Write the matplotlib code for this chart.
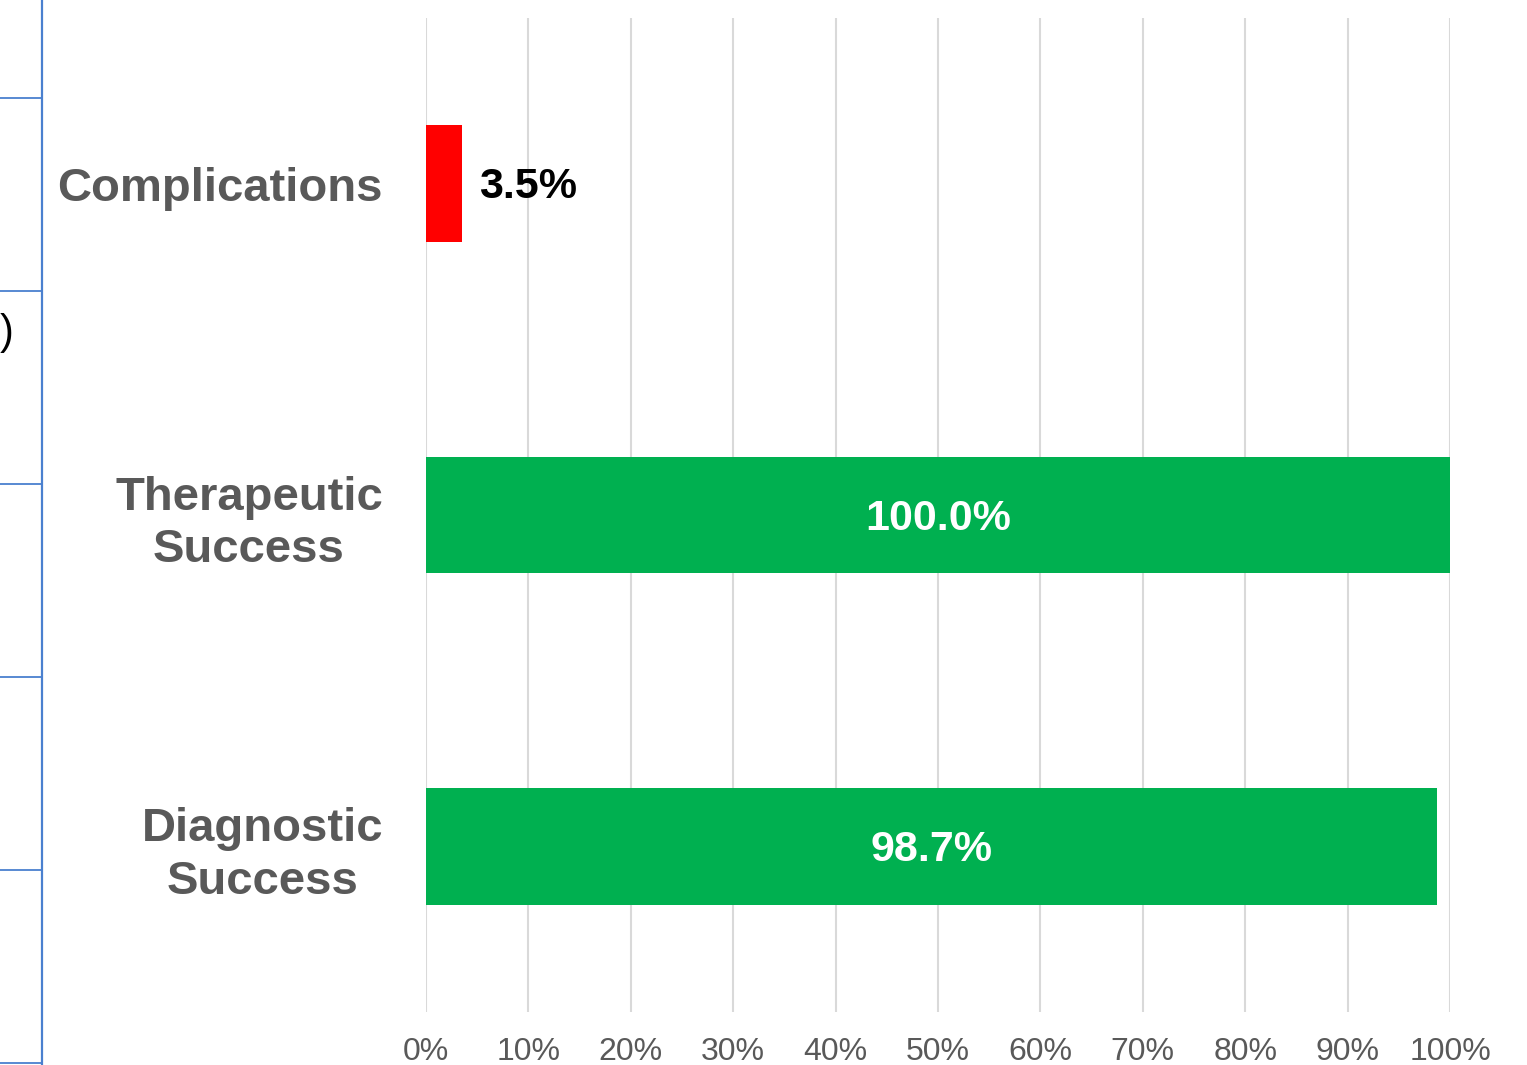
import matplotlib.pyplot as plt
from matplotlib.lines import Line2D

plt.rcParams['font.family'] = ['Liberation Sans', 'DejaVu Sans']

# data
categories = ['Diagnostic\nSuccess', 'Therapeutic\nSuccess', 'Complications']
values = [98.7, 100.0, 3.5]
bar_colors = ['#00B050', '#00B050', '#FF0000']
label_inside = [True, True, False]
xticks = [0, 10, 20, 30, 40, 50, 60, 70, 80, 90, 100]

W, H = 1527, 1065
fig = plt.figure(figsize=(W / 100, H / 100), dpi=100)
fig.patch.set_facecolor('white')

# leftover slide table edge on the left
blue = '#4A80CF'
fig.add_artist(Line2D([42 / W, 42 / W], [0, 1], color=blue, lw=1.6,
                      transform=fig.transFigure))
for yp in [98, 291, 484, 677, 870, 1063]:
    fig.add_artist(Line2D([0, 42 / W], [1 - yp / H, 1 - yp / H], color=blue,
                          lw=1.3, transform=fig.transFigure))
fig.text(14 / W, 1 - 333 / H, ')', ha='right', va='center', fontsize=30,
         color='black', family=['Liberation Sans', 'DejaVu Sans'])

# main chart
ax = fig.add_axes([426 / W, 1 - 1012 / H, (1450 - 426) / W, (1012 - 18) / H])
ypos = list(range(len(categories)))
ax.barh(ypos, values, height=0.353, color=bar_colors, zorder=3)
ax.set_xlim(0, 100)
ax.set_ylim(-0.5, len(categories) - 0.5)

ax.set_xticks(xticks)
ax.set_xticklabels([f'{t}%' for t in xticks], fontsize=23, color='#595959')
ax.set_yticks(ypos)
ax.set_yticklabels(categories, fontsize=34, fontweight='bold', color='#595959',
                   multialignment='center', linespacing=1.25)
for lbl in ax.get_yticklabels():
    lbl.set_va('center_baseline')
ax.tick_params(axis='both', length=0)
ax.tick_params(axis='y', pad=31)
ax.tick_params(axis='x', pad=18)
ax.grid(axis='x', color='#D9D9D9', lw=1.5, zorder=0)
for s in ax.spines.values():
    s.set_visible(False)

for y, v, inside in zip(ypos, values, label_inside):
    if inside:
        ax.annotate(f'{v:.1f}%', (v / 2, y), xytext=(0, -4), textcoords='offset pixels',
                    ha='center', va='center', fontsize=31, fontweight='bold',
                    color='white', zorder=4)
    else:
        ax.annotate(f'{v:.1f}%', (v, y), xytext=(17, -3), textcoords='offset pixels',
                    ha='left', va='center', fontsize=31, fontweight='bold',
                    color='black', zorder=4)

fig.savefig('out.png', dpi=100)
